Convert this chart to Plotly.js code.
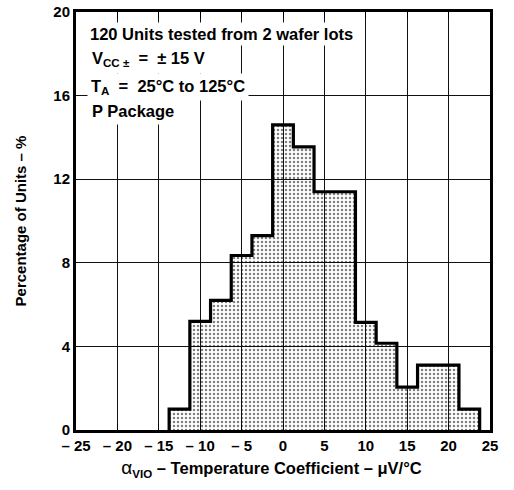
<!DOCTYPE html>
<html>
<head>
<meta charset="utf-8">
<script src="https://cdn.plot.ly/plotly-3.0.1.min.js"></script>
<style>html,body{margin:0;padding:0;background:#fff;}#chart{width:514px;height:490px;}</style>
</head>
<body>
<div id="chart"></div>
<script>
// Bin centres (µV/°C), bin width 2.5
const binCenters = [-12.5, -10, -7.5, -5, -2.5, 0, 2.5, 5, 7.5, 10, 12.5, 15, 17.5, 20, 22.5];
const binWidth = 2.5;
// Percentage of units per bin
const percentages = [1.0, 5.2, 6.2, 8.35, 9.3, 14.6, 13.55, 11.4, 11.4, 5.15, 4.15, 2.05, 3.1, 3.1, 1.0];
const xTickVals = [-25, -20, -15, -10, -5, 0, 5, 10, 15, 20, 25];
const xTickText = ['– 25', '– 20', '– 15', '– 10', '– 5', '0', '5', '10', '15', '20', '25'];
const yTickVals = [0, 4, 8, 12, 16, 20];
const noteLines = [
  '120 Units tested from 2 wafer lots',
  'V<sub>CC ±</sub>  =  ± 15 V',
  'T<sub>A</sub>  =  25°C to 125°C',
  'P Package'
];

// outline (step) derived from the bins
const outX = [], outY = [];
outX.push(binCenters[0] - binWidth / 2); outY.push(0);
binCenters.forEach((c, i) => { outX.push(c - binWidth / 2); outY.push(percentages[i]); });
outX.push(binCenters[binCenters.length - 1] + binWidth / 2); outY.push(0);
outX.push(binCenters[binCenters.length - 1] + binWidth / 2); outY.push(0);

const font = {family: 'Liberation Sans, Arial, Helvetica, sans-serif', color: '#000'};

const traces = [
  {
    type: 'bar', x: binCenters, y: percentages, width: binWidth,
    marker: {
      color: 'rgba(0,0,0,0.2)',
      line: {width: 0},
      pattern: {shape: '.', fgcolor: '#000', bgcolor: 'rgba(255,255,255,0)', size: 4, solidity: 0.3, fillmode: 'overlay'}
    },
    hoverinfo: 'skip', showlegend: false
  },
  {
    type: 'scatter', mode: 'lines', x: outX, y: outY,
    line: {shape: 'hv', color: '#000', width: 3.2},
    hoverinfo: 'skip', showlegend: false
  }
];

const annY = [0.947, 0.888, 0.82, 0.762];
const annotations = noteLines.map((t, i) => ({
  xref: 'paper', yref: 'paper', x: 0.026, y: annY[i],
  xanchor: 'left', yanchor: 'middle', showarrow: false,
  text: t, align: 'left',
  font: Object.assign({}, font, {size: 16.5, weight: 'bold'}),
  bgcolor: '#fff', borderpad: [2, 4, 3, 4][i]
}));

const layout = {
  width: 514, height: 490,
  margin: {l: 76, r: 24, t: 12, b: 60},
  paper_bgcolor: '#fff', plot_bgcolor: '#fff',
  font: font,
  bargap: 0,
  xaxis: {
    range: [-25, 25], tickmode: 'array', tickvals: xTickVals, ticktext: xTickText,
    showgrid: true, gridcolor: '#111', gridwidth: 1,
    showline: true, linecolor: '#000', linewidth: 3, mirror: 'allticks',
    ticks: 'inside', ticklen: 6, tickcolor: '#000', tickwidth: 1,
    zeroline: false,
    tickfont: Object.assign({}, font, {size: 15, weight: 'bold'}),
    title: {text: '<span style="font-size:19px;font-weight:normal">α</span><sub>VIO</sub> – Temperature Coefficient – μV/°C&nbsp;&nbsp;&nbsp;&nbsp;&nbsp;',
            font: Object.assign({}, font, {size: 16.5, weight: 'bold'}), standoff: 10}
  },
  yaxis: {
    range: [0, 20], tickmode: 'array', tickvals: yTickVals,
    showgrid: true, gridcolor: '#111', gridwidth: 1,
    showline: true, linecolor: '#000', linewidth: 3, mirror: true,
    ticks: '', zeroline: false,
    tickfont: Object.assign({}, font, {size: 15, weight: 'bold'}),
    title: {text: 'Percentage of Units – %',
            font: Object.assign({}, font, {size: 15, weight: 'bold'}), standoff: 24}
  },
  annotations: annotations
};

Plotly.newPlot('chart', traces, layout, {displayModeBar: false, staticPlot: true});
</script>
</body>
</html>
